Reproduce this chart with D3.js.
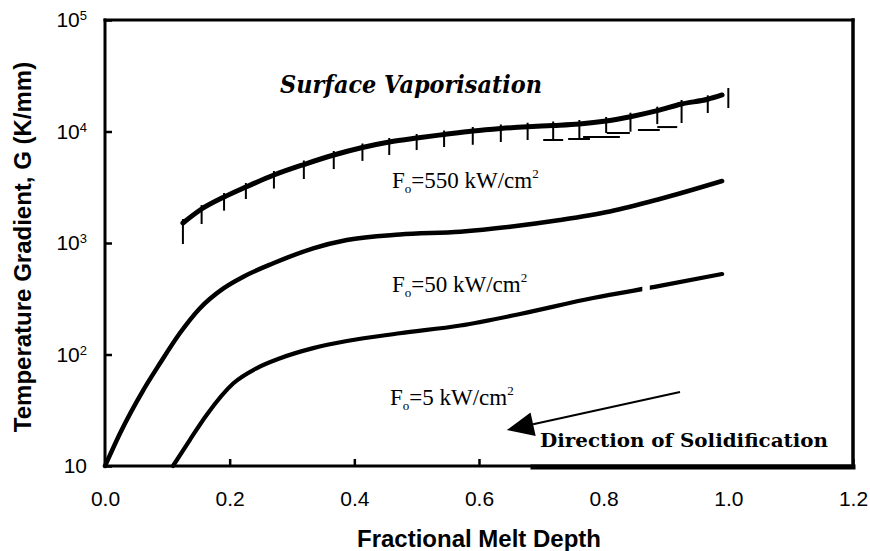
<!DOCTYPE html>
<html>
<head>
<meta charset="utf-8">
<script src="https://cdn.jsdelivr.net/npm/d3@7"></script>
<style>
  html, body { margin: 0; padding: 0; background: #fff; }
  svg { display: block; }
</style>
</head>
<body>
<svg id="chart" width="870" height="551"></svg>
<script>
// ---- axis ticks ----
const xTickValues = [0, 0.2, 0.4, 0.6, 0.8, 1.0, 1.2];
const xTickLabels = ["0.0", "0.2", "0.4", "0.6", "0.8", "1.0", "1.2"];
const yTickValues = [10, 100, 1000, 10000, 100000];
const yTickExponents = ["", "2", "3", "4", "5"];

// ---- Fo = 550 kW/cm2 : limited by surface vaporisation ----
const depth550 = [0.125, 0.155, 0.191, 0.226, 0.271, 0.319, 0.367, 0.413, 0.456, 0.500, 0.544,
                  0.590, 0.635, 0.678, 0.719, 0.761, 0.804, 0.843, 0.886, 0.925, 0.967, 0.990];
const grad550  = [1510, 2017, 2585, 3178, 4072, 5058, 6155, 7186, 8050, 8744, 9400,
                  10104, 10639, 11040, 11320, 11680, 12420, 13570, 15370, 17650, 19450, 21260];

// hatch marks hanging under the vaporisation limit
const hatchDepth = [0.125, 0.155, 0.191, 0.226, 0.271, 0.319, 0.367, 0.413, 0.456, 0.500, 0.544,
                    0.590, 0.635, 0.678, 0.719, 0.761, 0.804, 0.843, 0.886, 0.925, 0.967];
const hatchLowGrad = [980, 1480, 1950, 2480, 3080, 3750, 4600, 5450, 6150, 6820, 7260,
                      7600, 8050, 8390, 8390, 8690, 9700, 9950, 11660, 11920, 14650];
// closing mark at the end of the melt depth
const endMarkDepth = 1.0;
const endMarkGrad = [16250, 24550];
// short cross bars at the foot of the right-hand hatch marks
const barFrom = [0.703, 0.743, 0.767, 0.805, 0.855, 0.886];
const barTo   = [0.735, 0.778, 0.826, 0.842, 0.890, 0.918];
const barGrad = [8390, 8570, 8930, 9700, 10310, 10960];

// ---- Fo = 50 kW/cm2 ----
const depth50 = [0, 0.024, 0.0615, 0.088, 0.120, 0.152, 0.190, 0.222, 0.270, 0.334, 0.388,
                 0.473, 0.570, 0.650, 0.730, 0.810, 0.890, 0.990];
const grad50  = [10, 19.6, 48, 83, 155, 259, 392, 499, 658, 896, 1064,
                 1193, 1263, 1400, 1607, 1917, 2481, 3600];

// ---- Fo = 5 kW/cm2 (trace broken near 0.87) ----
const depth5 = [0.109, 0.136, 0.163, 0.206, 0.243, 0.281, 0.334, 0.388, 0.473, 0.570, 0.666,
                0.783, 0.890, 0.990];
const grad5  = [10, 17.1, 28.7, 55.2, 75.2, 92.5, 114, 132, 155, 182, 231,
                321, 412, 527];
const gap5 = [0.862, 0.874];

// ---- solidification arrow (tail -> tip) ----
const arrowDepth = [0.9225, 0.6445];
const arrowGrad = [46.1, 21.0];

// ---------------------------------------------------------------
const svg = d3.select("#chart");
const W = 870, H = 551;
const plot = { left: 105, right: 853, top: 20, bottom: 466 };

const x = d3.scaleLinear().domain([0, 1.2]).range([plot.left, plot.right]);
const y = d3.scaleLog().domain([10, 1e5]).range([plot.bottom, plot.top]);

svg.append("rect").attr("width", W).attr("height", H).attr("fill", "#fff");

const sans = "'Liberation Sans', Arial, sans-serif";
const serif = "'Liberation Serif', 'Times New Roman', serif";
const wideSerif = "'DejaVu Serif', serif";

// clip that leaves the small break in the 5 kW/cm2 trace
const defs = svg.append("defs");
const clip5 = defs.append("clipPath").attr("id", "clip5");
clip5.append("rect").attr("x", 0).attr("y", 0).attr("width", x(gap5[0])).attr("height", H);
clip5.append("rect").attr("x", x(gap5[1])).attr("y", 0).attr("width", W - x(gap5[1])).attr("height", H);

// ---- axes ----
const xAxis = d3.axisBottom(x)
  .tickValues(xTickValues)
  .tickFormat((d, i) => xTickLabels[i])
  .tickSizeInner(-7).tickSizeOuter(0).tickPadding(25);

const gx = svg.append("g")
  .attr("transform", `translate(0,${plot.bottom})`)
  .call(xAxis);
gx.select(".domain").remove();
gx.selectAll(".tick line").attr("stroke", "#000").attr("stroke-width", 2.5);
gx.selectAll(".tick text")
  .attr("fill", "#000").attr("font-family", sans).attr("font-size", 21);

const yAxis = d3.axisLeft(y)
  .tickValues(yTickValues)
  .tickFormat("")
  .tickSizeInner(-7).tickSizeOuter(0).tickPadding(18);

const gy = svg.append("g")
  .attr("transform", `translate(${plot.left},0)`)
  .call(yAxis);
gy.select(".domain").remove();
gy.selectAll(".tick line").attr("stroke", "#000").attr("stroke-width", 2.5);
gy.selectAll(".tick text")
  .attr("fill", "#000").attr("font-family", sans).attr("font-size", 21)
  .each(function (d, i) {
    const t = d3.select(this);
    t.append("tspan").text("10");
    if (yTickExponents[i]) {
      t.append("tspan").attr("dy", "-0.55em").attr("font-size", 13).text(yTickExponents[i]);
    }
  });

// ---- curves ----
const line = d3.line()
  .x(d => x(d[0]))
  .y(d => y(d[1]))
  .curve(d3.curveMonotoneX);

const curves = [
  { depth: depth550, grad: grad550, width: 5, clip: null },
  { depth: depth50, grad: grad50, width: 4.5, clip: null },
  { depth: depth5, grad: grad5, width: 4.2, clip: "url(#clip5)" }
];

svg.append("g").selectAll("path")
  .data(curves)
  .join("path")
  .attr("d", c => line(d3.zip(c.depth, c.grad)))
  .attr("clip-path", c => c.clip)
  .attr("fill", "none")
  .attr("stroke", "#000")
  .attr("stroke-width", c => c.width)
  .attr("stroke-linecap", "round")
  .attr("stroke-linejoin", "round");

// ---- vaporisation hatching ----
const logOn550 = d3.scaleLinear().domain(depth550).range(grad550.map(Math.log10));
const hatch = svg.append("g").attr("stroke", "#000").attr("stroke-width", 2);

hatch.selectAll("line.tick550")
  .data(d3.zip(hatchDepth, hatchLowGrad))
  .join("line")
  .attr("class", "tick550")
  .attr("x1", d => x(d[0])).attr("x2", d => x(d[0]))
  .attr("y1", d => y(Math.pow(10, logOn550(d[0]))) - 4)
  .attr("y2", d => y(d[1]));

hatch.append("line")
  .attr("x1", x(endMarkDepth)).attr("x2", x(endMarkDepth))
  .attr("y1", y(endMarkGrad[1])).attr("y2", y(endMarkGrad[0]));

hatch.selectAll("line.bar")
  .data(d3.zip(barFrom, barTo, barGrad))
  .join("line")
  .attr("class", "bar")
  .attr("x1", d => x(d[0])).attr("x2", d => x(d[1]))
  .attr("y1", d => y(d[2])).attr("y2", d => y(d[2]));

// ---- labels ----
svg.append("text")
  .attr("x", 280).attr("y", 93)
  .attr("font-family", wideSerif).attr("font-size", 25)
  .attr("font-weight", "bold").attr("font-style", "italic")
  .attr("textLength", 262).attr("lengthAdjust", "spacingAndGlyphs")
  .text("Surface Vaporisation");

function fluxLabel(px, py, value) {
  const t = svg.append("text")
    .attr("x", px).attr("y", py)
    .attr("font-family", serif).attr("font-size", 23).attr("fill", "#000");
  t.append("tspan").text("F");
  t.append("tspan").attr("font-size", 13).attr("dy", 5).text("o");
  t.append("tspan").attr("dy", -5).text(`=${value} kW/cm`);
  t.append("tspan").attr("font-size", 13).attr("dy", -10).text("2");
}
fluxLabel(392, 188, 550);
fluxLabel(392, 292, 50);
fluxLabel(390, 405, 5);

// ---- direction of solidification ----
svg.append("rect")
  .attr("x", 533).attr("y", 428).attr("width", plot.right - 533).attr("height", plot.bottom - 428)
  .attr("fill", "#fff");

svg.append("text")
  .attr("x", 540).attr("y", 447)
  .attr("font-family", wideSerif).attr("font-size", 19).attr("font-weight", "bold")
  .attr("textLength", 288).attr("lengthAdjust", "spacingAndGlyphs")
  .text("Direction of Solidification");

const tail = [x(arrowDepth[0]), y(arrowGrad[0])];
const tip = [x(arrowDepth[1]), y(arrowGrad[1])];
const ang = Math.atan2(tip[1] - tail[1], tip[0] - tail[0]);
const headLen = 27, headHalf = 12;
const base = [tip[0] - headLen * Math.cos(ang), tip[1] - headLen * Math.sin(ang)];
svg.append("line")
  .attr("x1", tail[0]).attr("y1", tail[1])
  .attr("x2", base[0]).attr("y2", base[1])
  .attr("stroke", "#000").attr("stroke-width", 2);
svg.append("path")
  .attr("d", d3.line()([
    tip,
    [base[0] + headHalf * Math.sin(ang), base[1] - headHalf * Math.cos(ang)],
    [base[0] - headHalf * Math.sin(ang), base[1] + headHalf * Math.cos(ang)]
  ]) + "Z")
  .attr("fill", "#000");

// ---- frame ----
const frame = svg.append("g").attr("stroke", "#000").attr("stroke-linecap", "square");
frame.append("line").attr("x1", plot.left).attr("x2", plot.left)
  .attr("y1", plot.top).attr("y2", plot.bottom).attr("stroke-width", 3);
frame.append("line").attr("x1", plot.left).attr("x2", plot.right)
  .attr("y1", plot.top).attr("y2", plot.top).attr("stroke-width", 3);
frame.append("line").attr("x1", plot.right).attr("x2", plot.right)
  .attr("y1", plot.top).attr("y2", plot.bottom).attr("stroke-width", 3.5);
frame.append("line").attr("x1", plot.left).attr("x2", plot.right)
  .attr("y1", plot.bottom).attr("y2", plot.bottom).attr("stroke-width", 3);
frame.append("line").attr("x1", 533).attr("x2", plot.right)
  .attr("y1", plot.bottom + 1).attr("y2", plot.bottom + 1).attr("stroke-width", 5);

// ---- axis titles ----
svg.append("text")
  .attr("x", (plot.left + plot.right) / 2).attr("y", 547)
  .attr("text-anchor", "middle")
  .attr("font-family", sans).attr("font-size", 24).attr("font-weight", "bold")
  .text("Fractional Melt Depth");

svg.append("text")
  .attr("transform", "translate(31,247) rotate(-90)")
  .attr("text-anchor", "middle")
  .attr("font-family", sans).attr("font-size", 24).attr("font-weight", "bold")
  .text("Temperature Gradient, G (K/mm)");
</script>
</body>
</html>
